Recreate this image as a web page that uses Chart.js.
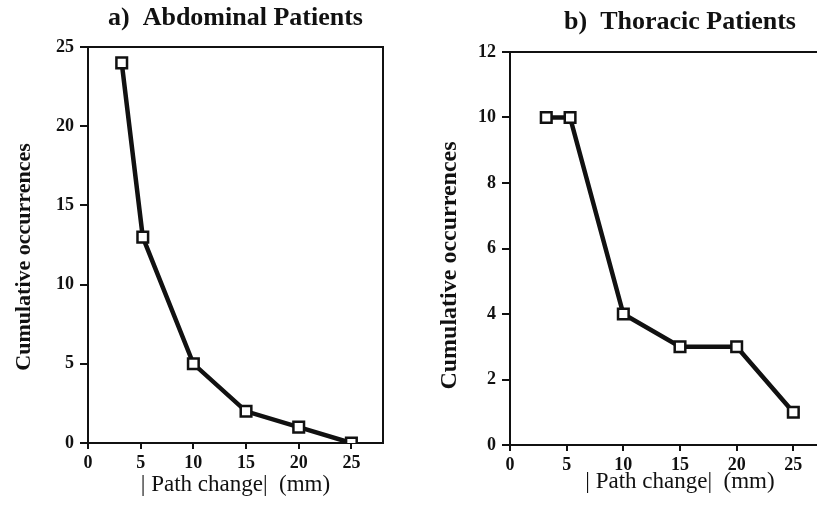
<!DOCTYPE html>
<html>
<head>
<meta charset="utf-8">
<script src="https://cdn.jsdelivr.net/npm/chart.js@4"></script>
<style>
  html, body { margin: 0; padding: 0; background: #fff; overflow: hidden; }
  #wrap { position: relative; width: 817px; height: 510px; overflow: hidden; }
  canvas { position: absolute; top: 0; }
  #chartA { left: 0; }
  #chartB { left: 410px; }
</style>
</head>
<body>
<div id="wrap">
  <canvas id="chartA" width="410" height="510"></canvas>
  <canvas id="chartB" width="450" height="510"></canvas>
</div>
<script>
// path change (mm) vs cumulative occurrences
const abdominalX = [3.2, 5.2, 10, 15, 20, 25];
const abdominalY = [24, 13, 5, 2, 1, 0];
const thoracicX = [3.2, 5.3, 10, 15, 20, 25];
const thoracicY = [10, 10, 4, 3, 3, 1];

const xTicks = [0, 5, 10, 15, 20, 25];
const abdominalTicks = [0, 5, 10, 15, 20, 25];
const thoracicTicks = [0, 2, 4, 6, 8, 10, 12];

const serif = '"Liberation Serif", "DejaVu Serif", serif';
const ink = '#111';
const yLabel = 'Cumulative occurrences';

Chart.defaults.font.family = serif;
Chart.defaults.color = ink;

// frame around the plot area
const frame = {
  id: 'frame',
  afterDatasetsDraw(chart) {
    const a = chart.chartArea;
    const ctx = chart.ctx;
    ctx.save();
    ctx.strokeStyle = ink;
    ctx.lineWidth = 2;
    ctx.beginPath();
    ctx.moveTo(a.left, a.top);
    ctx.lineTo(a.right, a.top);
    ctx.lineTo(a.right, a.bottom);
    ctx.stroke();
    ctx.restore();
  }
};

// rotated y label, sits a little below the middle of the plot
const sideLabel = {
  id: 'sideLabel',
  afterDraw(chart, args, o) {
    const a = chart.chartArea;
    const ctx = chart.ctx;
    ctx.save();
    ctx.translate(o.x, (a.top + a.bottom) / 2 + o.shift);
    ctx.rotate(-Math.PI / 2);
    ctx.fillStyle = ink;
    ctx.font = 'bold ' + o.size + 'px ' + serif;
    ctx.textAlign = 'center';
    ctx.textBaseline = 'middle';
    ctx.fillText(o.text, 0, 0);
    ctx.restore();
  }
};

function makeChart(id, opts) {
  const points = opts.xs.map((x, i) => ({ x: x, y: opts.ys[i] }));
  return new Chart(document.getElementById(id), {
    type: 'line',
    data: {
      datasets: [{
        data: points,
        borderColor: ink,
        borderWidth: 4.5,
        backgroundColor: '#fff',
        pointStyle: 'rect',
        pointRadius: 7.5,
        pointBorderWidth: 2.5,
        pointBackgroundColor: '#fff',
        pointBorderColor: ink,
        tension: 0
      }]
    },
    options: {
      responsive: false,
      animation: false,
      layout: { padding: { left: 0, right: opts.padRight, top: 0, bottom: 0 } },
      plugins: {
        legend: { display: false },
        tooltip: { enabled: false },
        title: {
          display: true,
          text: opts.title,
          fullSize: false,
          color: ink,
          font: { size: 26, weight: 'bold', family: serif },
          padding: opts.titlePad
        },
        sideLabel: { text: yLabel, x: opts.yTitleX, shift: opts.yTitleShift, size: opts.yTitleSize }
      },
      scales: {
        x: {
          type: 'linear',
          min: 0,
          max: opts.xMax,
          afterBuildTicks(scale) { scale.ticks = xTicks.map(v => ({ value: v })); },
          afterFit(scale) { scale.height = opts.xHeight; },
          grid: { drawOnChartArea: false, tickLength: 6, color: ink, lineWidth: 2 },
          border: { display: true, color: ink, width: 2 },
          ticks: { color: ink, padding: 4, font: { size: 18, weight: 'bold', family: serif } },
          title: {
            display: true,
            text: '| Path change|  (mm)',
            color: ink,
            font: { size: 23, family: serif },
            padding: { top: 0, bottom: opts.xTitlePad }
          }
        },
        y: {
          type: 'linear',
          min: 0,
          max: opts.yMax,
          afterBuildTicks(scale) { scale.ticks = opts.yTicks.map(v => ({ value: v })); },
          afterFit(scale) { scale.width = opts.yWidth; },
          grid: { drawOnChartArea: false, tickLength: 8, color: ink, lineWidth: 2 },
          border: { display: true, color: ink, width: 2 },
          ticks: { color: ink, padding: 6, font: { size: 18, weight: 'bold', family: serif } }
        }
      }
    },
    plugins: [frame, sideLabel]
  });
}

makeChart('chartA', {
  xs: abdominalX, ys: abdominalY,
  title: 'a)  Abdominal Patients',
  titlePad: { top: 3, bottom: 12.8 },
  xMax: 28, yMax: 25, yTicks: abdominalTicks,
  yWidth: 88, xHeight: 67, padRight: 27,
  yTitleSize: 22, yTitleX: 24, yTitleShift: 12, xTitlePad: 11.2
});

makeChart('chartB', {
  xs: thoracicX, ys: thoracicY,
  title: 'b)  Thoracic Patients',
  titlePad: { top: 7, bottom: 13.8 },
  xMax: 30, yMax: 12, yTicks: thoracicTicks,
  yWidth: 100, xHeight: 65, padRight: 4,
  yTitleSize: 24, yTitleX: 40, yTitleShift: 17, xTitlePad: 14.2
});
</script>
</body>
</html>
